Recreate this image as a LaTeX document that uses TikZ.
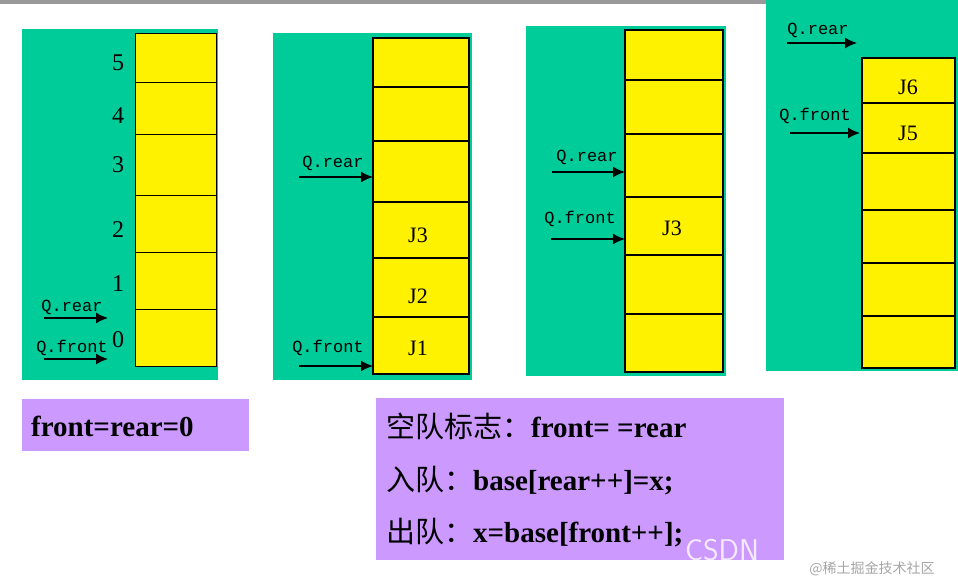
\documentclass[tikz,border=0pt]{standalone}
\usepackage{fontspec}
\setmainfont{Liberation Serif}
\newfontfamily\monof{Liberation Mono}
\newfontfamily\cjk{Noto Sans CJK SC}
\definecolor{grn}{RGB}{0,204,153}
\definecolor{pur}{RGB}{204,153,255}
\begin{document}
\begin{tikzpicture}[x=1pt,y=-1pt,
  panel/.style={fill=grn},
  cell/.style={fill=yellow,draw=black},
  ptr/.style={-{Latex[length=12pt,width=11pt]},line width=1.6pt},
  ptrlabel/.style={font=\monof\fontsize{17}{17}\selectfont,inner sep=0pt},
  idx/.style={font=\fontsize{24}{24}\selectfont,inner sep=0pt},
  jl/.style={font=\fontsize{22}{22}\selectfont,inner sep=0pt},
  btxt/.style={font=\bfseries\fontsize{29}{29}\selectfont,anchor=west,inner sep=0pt}]
\usetikzlibrary{arrows.meta}
\useasboundingbox (0,0) rectangle (958,586);
\fill[white] (0,0) rectangle (958,586);
\fill[gray!80] (0,0) rectangle (766,4);
% panel 1
\fill[panel] (22,29) rectangle (218,380);
\foreach \a/\b in {33/82,82/134,134/195,195/252,252/309,309/366}
  \draw[cell] (135,\a) rectangle (216,\b);
\foreach \t/\y in {5/63,4/116,3/165,2/230,1/284,0/340}
  \node[idx] (i\t) at (118,\y) {\t};
\node[ptrlabel] (r1) at (72,307) {Q.rear};
\coordinate (r1a) at (44,318); \coordinate (r1b) at (108,318);
\draw[ptr] (r1a) -- (r1b);
\node[ptrlabel] (f1) at (72,348) {Q.front};
\coordinate (f1a) at (44,359); \coordinate (f1b) at (108,359);
\draw[ptr] (f1a) -- (f1b);
% panel 2
\fill[panel] (273,33) rectangle (472,380);
\foreach \a/\b in {38/87,87/141,141/202,202/258,258/317,317/374}
  \draw[cell,line width=1.4pt] (373,\a) rectangle (469,\b);
\node[jl] (j3a) at (418,235) {J3};
\node[jl] (j2a) at (418,296) {J2};
\node[jl] (j1a) at (418,348) {J1};
\node[ptrlabel] (r2) at (333,163) {Q.rear};
\coordinate (r2a) at (299,177); \coordinate (r2b) at (373,177);
\draw[ptr] (r2a) -- (r2b);
\node[ptrlabel] (f2) at (328,348) {Q.front};
\coordinate (f2a) at (299,366); \coordinate (f2b) at (373,366);
\draw[ptr] (f2a) -- (f2b);
% panel 3
\fill[panel] (526,26) rectangle (726,376);
\foreach \a/\b in {30/80,80/134,134/197,197/255,255/314,314/372}
  \draw[cell,line width=1.4pt] (625,\a) rectangle (723,\b);
\node[jl] (j3b) at (672,228) {J3};
\node[ptrlabel] (r3) at (587,157) {Q.rear};
\coordinate (r3a) at (552,172); \coordinate (r3b) at (625,172);
\draw[ptr] (r3a) -- (r3b);
\node[ptrlabel] (f3) at (580,219) {Q.front};
\coordinate (f3a) at (551,239); \coordinate (f3b) at (625,239);
\draw[ptr] (f3a) -- (f3b);
% panel 4
\fill[panel] (766,0) rectangle (958,371);
\foreach \a/\b in {58/103,103/153,153/210,210/263,263/316,316/368}
  \draw[cell,line width=1.4pt] (862,\a) rectangle (955,\b);
\node[jl] (j6) at (908,87) {J6};
\node[jl] (j5) at (908,133) {J5};
\node[ptrlabel] (r4) at (818,30) {Q.rear};
\coordinate (r4a) at (787,43); \coordinate (r4b) at (857,43);
\draw[ptr] (r4a) -- (r4b);
\node[ptrlabel] (f4) at (815,116) {Q.front};
\coordinate (f4a) at (790,133); \coordinate (f4b) at (860,133);
\draw[ptr] (f4a) -- (f4b);
% text boxes
\fill[pur] (22,399) rectangle (249,451);
\node[btxt] (t0) at (31,426) {front=rear=0};
\fill[pur] (376,398) rectangle (784,560);
\node[btxt] (t1) at (386,426) {{\cjk\mdseries 空队标志：}front= =rear};
\node[btxt] (t2) at (386,481) {{\cjk\mdseries 入队：}base[rear++]=x;};
\node[btxt] (t3) at (386,533) {{\cjk\mdseries 出队：}x=base[front++];};
\node[font=\sffamily\fontsize{30}{30}\selectfont,text=white,opacity=0.8] (wm) at (722,550) {CSDN};
\node[font=\cjk\fontsize{14}{14}\selectfont,text=gray!70] (wm2) at (872,569) {@稀土掘金技术社区};
\end{tikzpicture}
\end{document}
